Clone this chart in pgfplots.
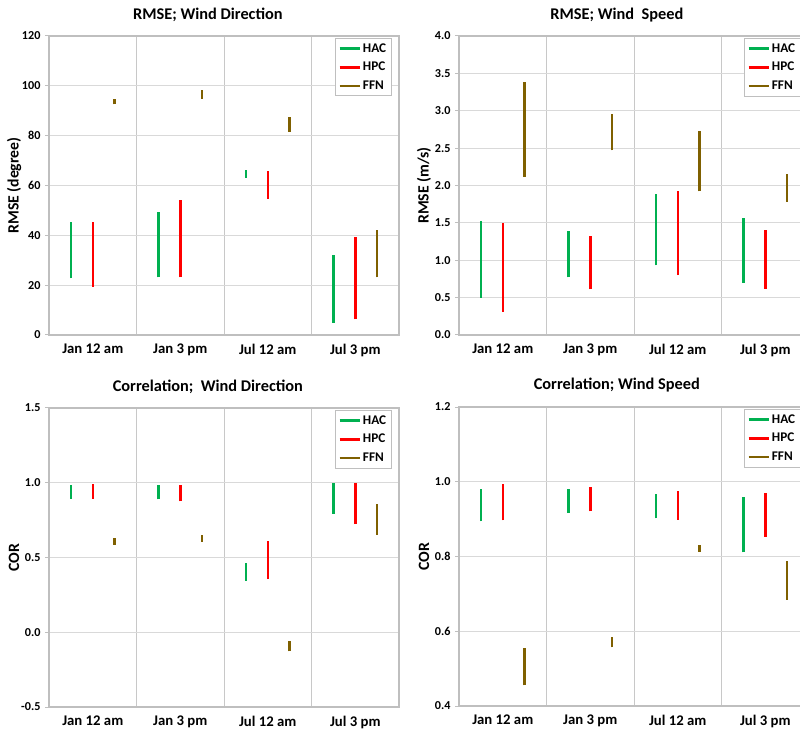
\documentclass[border=0pt]{standalone}
\usepackage{pgfplots}
\pgfplotsset{compat=1.18}
\usepackage{pgfplotstable}
\usepackage{fontspec}
\setmainfont{Carlito}

\definecolor{hac}{HTML}{00B050}
\definecolor{hpc}{HTML}{FF0000}
\definecolor{ffn}{HTML}{7F6000}
\definecolor{gridc}{HTML}{D9D9D9}
\definecolor{framec}{HTML}{BFBFBF}

% low / high of each range, per category (0 = Jan 12 am, ..., 3 = Jul 3 pm)
\pgfplotstableread{
cat haclo hachi hpclo hpchi ffnlo ffnhi
0 22.7 45.4 19.4 45.2 92.6 94.9
1 23.1 49.4 23.1 54.1 94.9 98.2
2 63.2 66.1 54.7 66.0 81.5 87.5
3 4.9 32.3 6.3 39.4 23.1 42.1
}\rmsewd
\pgfplotstableread{
cat haclo hachi hpclo hpchi ffnlo ffnhi
0 0.50 1.52 0.31 1.50 2.12 3.39
1 0.77 1.39 0.61 1.33 2.47 2.96
2 0.93 1.89 0.80 1.92 1.92 2.73
3 0.70 1.56 0.62 1.41 1.78 2.15
}\rmsews
\pgfplotstableread{
cat haclo hachi hpclo hpchi ffnlo ffnhi
0 0.894 0.987 0.894 0.994 0.586 0.630
1 0.889 0.987 0.876 0.987 0.604 0.653
2 0.345 0.463 0.356 0.613 -0.128 -0.058
3 0.793 1.000 0.724 0.998 0.653 0.860
}\corwd
\pgfplotstableread{
cat haclo hachi hpclo hpchi ffnlo ffnhi
0 0.894 0.980 0.897 0.994 0.455 0.555
1 0.916 0.980 0.921 0.987 0.557 0.585
2 0.902 0.967 0.899 0.976 0.813 0.831
3 0.811 0.959 0.853 0.970 0.684 0.787
}\corws

\pgfplotsset{
  panel/.style={
    scale only axis, width=350bp, height=299bp,
    xmin=0, xmax=4,
    xtick={0.5,1.5,2.5,3.5},
    xticklabels={Jan 12 am, Jan 3 pm, Jul 12 am, Jul 3 pm},
    minor xtick={1,2,3}, xminorgrids, ymajorgrids,
    major grid style={gridc, line width=1bp},
    minor grid style={gridc!92!black, line width=1bp},
    x tick style={draw=none}, minor x tick style={draw=none},
    y tick style={framec, line width=1bp},
    major tick length=4bp, tick align=outside, ytick pos=left,
    axis line style={framec, line width=1.3bp},
    /pgf/number format/assume math mode=true,
    yticklabel style={font=\fontsize{12.2}{13}\selectfont\bfseries, xshift=-1bp},
    xticklabel style={font=\fontsize{14.8}{16}\selectfont\bfseries, yshift=-1.5bp},
    ylabel style={font=\fontsize{15.8}{17}\selectfont\bfseries,
      at={(axis description cs:-0.1,0.5)}, anchor=center},
    title style={font=\fontsize{16.4}{18}\selectfont\bfseries, anchor=center},
    legend cell align=left,
    legend style={anchor=north west, draw=framec, line width=1bp, fill=white,
      font=\fontsize{13.3}{15}\selectfont\bfseries,
      inner xsep=3bp, inner ysep=3bp, row sep=4.5bp},
  },
  rng/.style={mark=none, draw=none,
    /pgfplots/legend image code/.code={\draw[line width=2.5bp, draw=#1] (0bp,0bp) -- (20bp,0bp);},
    error bars/.cd, y dir=plus, y explicit, error mark=none,
    error bar style={line width=2.5bp, draw=#1}},
}

\newcommand\ranges[1]{%
  \addplot[rng=hac] table[x expr=\thisrow{cat}+0.25, y=haclo, y error plus expr=\thisrow{hachi}-\thisrow{haclo}] {#1};
  \addlegendentry{HAC}
  \addplot[rng=hpc] table[x expr=\thisrow{cat}+0.5, y=hpclo, y error plus expr=\thisrow{hpchi}-\thisrow{hpclo}] {#1};
  \addlegendentry{HPC}
  \addplot[rng=ffn] table[x expr=\thisrow{cat}+0.75, y=ffnlo, y error plus expr=\thisrow{ffnhi}-\thisrow{ffnlo}] {#1};
  \addlegendentry{FFN}
}

\begin{document}
\begin{tikzpicture}
\useasboundingbox (0,0) rectangle (800bp,729bp);
\clip (0,0) rectangle (800bp,729bp);

\begin{axis}[panel, at={(49bp,394bp)}, anchor=south west,
  ymin=0, ymax=120, ytick={0,20,...,120},
  ylabel={RMSE (degree)},
  title={RMSE; Wind Direction}, title style={at={(axis description cs:0.454,1.051)}},
  legend style={at={(axis description cs:0.817,0.993)}}]
\ranges{\rmsewd}
\end{axis}

\begin{axis}[panel, at={(459bp,394bp)}, anchor=south west,
  ymin=0, ymax=4, ytick={0,0.5,...,4},
  yticklabel style={/pgf/number format/.cd, fixed, fixed zerofill, precision=1},
  ylabel={RMSE (m/s)},
  title={RMSE; Wind\ \ Speed}, title style={at={(axis description cs:0.451,1.051)}},
  legend style={at={(axis description cs:0.814,0.993)}}]
\ranges{\rmsews}
\end{axis}

\begin{axis}[panel, at={(49bp,22bp)}, anchor=south west,
  ymin=-0.5, ymax=1.5, ytick={-0.5,0,...,1.5},
  yticklabel style={/pgf/number format/.cd, fixed, fixed zerofill, precision=1},
  ylabel={COR},
  title={Correlation;\ \ Wind Direction}, title style={at={(axis description cs:0.454,1.052)}},
  legend style={at={(axis description cs:0.817,0.993)}}]
\ranges{\corwd}
\end{axis}

\begin{axis}[panel, at={(459bp,23bp)}, anchor=south west,
  ymin=0.4, ymax=1.2, ytick={0.4,0.6,...,1.2},
  yticklabel style={/pgf/number format/.cd, fixed, fixed zerofill, precision=1},
  ylabel={COR},
  title={Correlation; Wind Speed}, title style={at={(axis description cs:0.451,1.052)}},
  legend style={at={(axis description cs:0.814,0.993)}}]
\ranges{\corws}
\end{axis}
\end{tikzpicture}
\end{document}
